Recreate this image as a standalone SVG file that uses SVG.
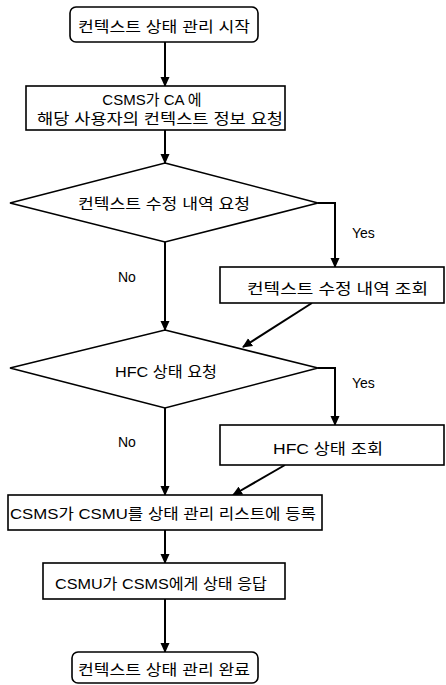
<svg xmlns="http://www.w3.org/2000/svg" width="446" height="685" viewBox="0 0 446 685">
<style>
.box{fill:#fff;stroke:#000;stroke-width:1.6}
.ln{fill:none;stroke:#000;stroke-width:2}
.t{font-family:"Liberation Sans","Noto Sans CJK KR",sans-serif;font-size:15px;fill:#000}
.l{font-family:"Liberation Sans","Noto Sans CJK KR",sans-serif;font-size:14px;fill:#000}
</style>
<defs>
<marker id="ah" markerWidth="10" markerHeight="10" refX="9" refY="5" orient="auto" markerUnits="userSpaceOnUse">
<path d="M0,0.5 L10,5 L0,9.5 Z" fill="#000"/>
</marker>
</defs>
<rect width="446" height="685" fill="#fff"/>
<g id="connectors">
<line class="ln" x1="165" y1="42" x2="165" y2="86" marker-end="url(#ah)"/>
<line class="ln" x1="165" y1="130" x2="165" y2="163" marker-end="url(#ah)"/>
<polyline class="ln" points="318,203 335,203 335,267" marker-end="url(#ah)"/>
<line class="ln" x1="165" y1="242" x2="165" y2="330" marker-end="url(#ah)"/>
<line class="ln" x1="312" y1="303" x2="243" y2="347" marker-end="url(#ah)"/>
<polyline class="ln" points="318,368 335,368 335,425" marker-end="url(#ah)"/>
<line class="ln" x1="165" y1="408" x2="165" y2="495" marker-end="url(#ah)"/>
<line class="ln" x1="285" y1="465" x2="233" y2="495" marker-end="url(#ah)"/>
<line class="ln" x1="165" y1="530" x2="165" y2="563" marker-end="url(#ah)"/>
<line class="ln" x1="165" y1="599" x2="165" y2="652" marker-end="url(#ah)"/>
<text class="l" x="352" y="238">Yes</text>
<text class="l" x="118" y="282">No</text>
<text class="l" x="352" y="388">Yes</text>
<text class="l" x="118" y="447">No</text>
</g>
<g id="start">
<rect class="box" x="70" y="7" width="188" height="35" rx="6"/>
<text class="t" x="78" y="32" textLength="172" lengthAdjust="spacingAndGlyphs">컨텍스트 상태 관리 시작</text>
</g>
<g id="request">
<rect class="box" x="26" y="86" width="259" height="44"/>
<text class="t" x="152" y="105" text-anchor="middle">CSMS가 CA 에</text>
<text class="t" x="37" y="124" textLength="246" lengthAdjust="spacingAndGlyphs">해당 사용자의 컨텍스트 정보 요청</text>
</g>
<g id="decision1">
<polygon class="box" points="165,163 318,203 165,242 10,203"/>
<text class="t" x="78" y="209" textLength="172" lengthAdjust="spacingAndGlyphs">컨텍스트 수정 내역 요청</text>
</g>
<g id="query1">
<rect class="box" x="220" y="267" width="224" height="36"/>
<text class="t" x="247" y="294" textLength="181" lengthAdjust="spacingAndGlyphs">컨텍스트 수정 내역 조회</text>
</g>
<g id="decision2">
<polygon class="box" points="165,330 318,368 165,408 10,368"/>
<text class="t" x="115" y="377" textLength="102" lengthAdjust="spacingAndGlyphs">HFC 상태 요청</text>
</g>
<g id="query2">
<rect class="box" x="220" y="425" width="224" height="40"/>
<text class="t" x="273" y="454" textLength="110" lengthAdjust="spacingAndGlyphs">HFC 상태 조회</text>
</g>
<g id="register">
<rect class="box" x="8" y="495" width="314" height="35"/>
<text class="t" x="10" y="519" textLength="306" lengthAdjust="spacingAndGlyphs">CSMS가 CSMU를 상태 관리 리스트에 등록</text>
</g>
<g id="response">
<rect class="box" x="43" y="563" width="242" height="36"/>
<text class="t" x="55" y="589" textLength="212" lengthAdjust="spacingAndGlyphs">CSMU가 CSMS에게 상태 응답</text>
</g>
<g id="end">
<rect class="box" x="72" y="652" width="186" height="31" rx="6"/>
<text class="t" x="78" y="675" textLength="172" lengthAdjust="spacingAndGlyphs">컨텍스트 상태 관리 완료</text>
</g>
</svg>
